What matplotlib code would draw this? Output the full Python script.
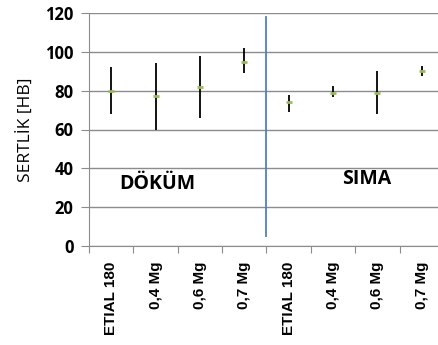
import matplotlib
matplotlib.use("Agg")
import matplotlib.pyplot as plt
import numpy as np

categories = ["ETIAL 180", "0,4 Mg", "0,6 Mg", "0,7 Mg", "ETIAL 180", "0,4 Mg", "0,6 Mg", "0,7 Mg"]
means = [80, 77, 82, 95, 74, 79, 79, 90]
lows = [68, 60, 66, 89, 69, 76.5, 68, 87.5]
highs = [92, 94, 98, 102, 78, 82.5, 90, 92.5]
yticks = [0, 20, 40, 60, 80, 100, 120]
group_labels = ["DÖKÜM", "SIMA"]

fig = plt.figure(figsize=(4.39, 3.45), dpi=100)
ax = fig.add_axes([89/439, 1-246/345, 355/439, 233/345])

x = np.arange(len(categories)) + 0.5
ax.vlines(x, lows, highs, color="black", lw=1.3, zorder=3)
ax.plot(x, means, ls="none", marker="_", ms=4, mew=2, color="#9BBB59", zorder=4)

# separator line
ax.plot([4, 4], [5, 118], color="#4F81BD", lw=1.3, zorder=3)

ax.set_xlim(0, 8)
ax.set_ylim(0, 120)
ax.set_yticks(yticks)
ax.yaxis.grid(True, color="#8c8c8c", lw=1)
ax.set_axisbelow(True)
for s in ["top", "right"]:
    ax.spines[s].set_visible(False)
for s in ["left", "bottom"]:
    ax.spines[s].set_color("#8c8c8c")
ax.tick_params(axis="y", colors="#8c8c8c", length=6, pad=5, labelcolor="black")
ax.set_yticklabels([str(v) for v in yticks], fontsize=12, fontweight="bold", family="Open Sans")

ax.set_xticks(np.arange(0, 9))
ax.set_xticklabels([])
ax.tick_params(axis="x", which="major", colors="#8c8c8c", length=5)
ax.set_xticks(x, minor=True)
ax.set_xticklabels(categories, minor=True, rotation=90, fontsize=11, fontweight="bold",
                   family="Liberation Sans")
ax.tick_params(axis="x", which="minor", length=0, pad=11)

ax.set_ylabel("SERTLİK [HB]", fontsize=12.5, family="Open Sans", labelpad=8)

ax.text(1.55, 32, group_labels[0], ha="center", va="center", fontsize=14, fontweight="bold", family="Open Sans")
ax.text(6.26, 34.5, group_labels[1], ha="center", va="center", fontsize=14, fontweight="bold", family="Open Sans")

fig.savefig("out.png", dpi=100)
